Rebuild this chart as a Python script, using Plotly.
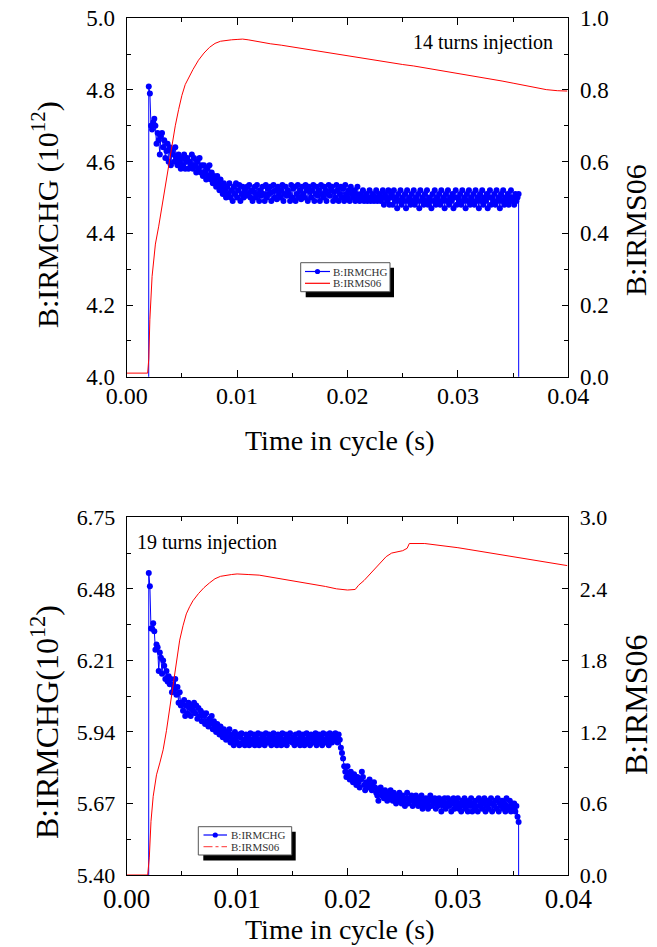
import numpy as np
import plotly.graph_objects as go

# ---------------- data ----------------
# top panel: 14 turns injection, B:IRMCHG sampled every 0.1 ms from 2.0 ms
top_t0, top_dt = 0.0020, 0.0001
top_irmchg = [
    4.81, 4.79, 4.70, 4.69, 4.71, 4.72, 4.70, 4.65, 4.68, 4.66,
    4.62, 4.67, 4.68, 4.64, 4.66, 4.61, 4.63, 4.65, 4.60, 4.64,
    4.59, 4.63, 4.62, 4.60, 4.64, 4.61, 4.59, 4.62, 4.60, 4.58,
    4.61, 4.59, 4.62, 4.58, 4.60, 4.61, 4.58, 4.60, 4.59, 4.62,
    4.58, 4.61, 4.59, 4.57, 4.60, 4.58, 4.61, 4.57, 4.59, 4.56,
    4.59, 4.57, 4.55, 4.58, 4.56, 4.59, 4.55, 4.57, 4.54, 4.56,
    4.55, 4.53, 4.56, 4.54, 4.52, 4.55, 4.53, 4.51, 4.54, 4.52,
    4.50, 4.53, 4.51, 4.54, 4.50, 4.52, 4.49, 4.53, 4.51, 4.54,
    4.50, 4.52, 4.535, 4.49, 4.51, 4.53, 4.50, 4.52, 4.505, 4.53,
    4.51, 4.535, 4.50, 4.52, 4.49, 4.515, 4.53, 4.50, 4.535, 4.51,
    4.49, 4.52, 4.505, 4.53, 4.51, 4.49, 4.535, 4.50, 4.525, 4.51,
    4.53, 4.49, 4.515, 4.535, 4.50, 4.52, 4.495, 4.53, 4.51, 4.50,
    4.52, 4.535, 4.49, 4.51, 4.53, 4.505, 4.52, 4.51, 4.49, 4.535,
    4.50, 4.525, 4.53, 4.49, 4.51, 4.535, 4.50, 4.52, 4.495, 4.53,
    4.51, 4.50, 4.535, 4.52, 4.49, 4.53, 4.515, 4.50, 4.52, 4.535,
    4.49, 4.51, 4.53, 4.505, 4.52, 4.49, 4.535, 4.51, 4.50, 4.53,
    4.52, 4.49, 4.51, 4.535, 4.505, 4.52, 4.53, 4.49, 4.515, 4.50,
    4.535, 4.52, 4.49, 4.51, 4.53, 4.50, 4.525, 4.49, 4.535, 4.51,
    4.50, 4.52, 4.49, 4.53, 4.51, 4.50, 4.52, 4.49, 4.51, 4.53,
    4.50, 4.49, 4.51, 4.50, 4.52, 4.49, 4.50, 4.51, 4.49, 4.50,
    4.52, 4.49, 4.50, 4.51, 4.49, 4.50, 4.52, 4.49, 4.50, 4.51,
    4.49, 4.50, 4.52, 4.48, 4.51, 4.50, 4.49, 4.52, 4.48, 4.50,
    4.51, 4.48, 4.52, 4.49, 4.50, 4.47, 4.51, 4.49, 4.52, 4.48,
    4.50, 4.49, 4.51, 4.47, 4.52, 4.49, 4.50, 4.48, 4.51, 4.49,
    4.52, 4.48, 4.50, 4.49, 4.51, 4.47, 4.52, 4.49, 4.50, 4.48,
    4.51, 4.49, 4.52, 4.48, 4.50, 4.49, 4.47, 4.51, 4.49, 4.52,
    4.48, 4.50, 4.49, 4.51, 4.48, 4.52, 4.49, 4.50, 4.47, 4.51,
    4.49, 4.52, 4.48, 4.50, 4.49, 4.51, 4.47, 4.50, 4.52, 4.48,
    4.50, 4.49, 4.51, 4.48, 4.52, 4.49, 4.50, 4.47, 4.51, 4.49,
    4.52, 4.48, 4.50, 4.49, 4.51, 4.48, 4.52, 4.49, 4.50, 4.47,
    4.51, 4.49, 4.52, 4.48, 4.50, 4.49, 4.51, 4.47, 4.50, 4.52,
    4.48, 4.50, 4.49, 4.51, 4.48, 4.52, 4.49, 4.50, 4.47, 4.51,
    4.49, 4.52, 4.48, 4.50, 4.49, 4.51, 4.48, 4.50, 4.52, 4.49,
    4.50, 4.48, 4.51, 4.49, 4.50, 4.51,
]
top_edges_t = [0.00196, 0.03556]      # beam on / beam off instants
top_edges_v = [0.0, 0.0]

top_rms_t = [0.0, 0.0019, 0.0020, 0.0021, 0.0023, 0.0026, 0.0029, 0.0032, 0.0035,
             0.0038, 0.0041, 0.0044, 0.0047, 0.0050, 0.0053, 0.0056, 0.0060, 0.0065,
             0.0070, 0.0075, 0.0080, 0.0085, 0.0090, 0.0095, 0.0100, 0.0105, 0.0110,
             0.0115, 0.0120, 0.0130, 0.0140, 0.0150, 0.0160, 0.0170, 0.0180, 0.0190,
             0.0200, 0.0210, 0.0220, 0.0230, 0.0240, 0.0250, 0.0260, 0.0270, 0.0280,
             0.0290, 0.0300, 0.0310, 0.0320, 0.0330, 0.0340, 0.0350, 0.0360, 0.0370,
             0.0380, 0.0390, 0.0399]
top_rms_v = [0.01, 0.01, 0.05, 0.16, 0.28, 0.37, 0.42, 0.475, 0.53,
             0.59, 0.65, 0.70, 0.745, 0.785, 0.815, 0.835, 0.857, 0.883,
             0.903, 0.919, 0.930, 0.936, 0.939, 0.940, 0.941, 0.942, 0.940,
             0.937, 0.934, 0.929, 0.925, 0.920, 0.916, 0.910, 0.904, 0.899,
             0.895, 0.890, 0.885, 0.879, 0.874, 0.871, 0.867, 0.862, 0.856,
             0.851, 0.846, 0.840, 0.835, 0.830, 0.825, 0.819, 0.813, 0.806,
             0.801, 0.798, 0.797]

# bottom panel: 19 turns injection
bot_t0, bot_dt = 0.0020, 0.0001
bot_irmchg = [
    6.54, 6.49, 6.33, 6.33, 6.35, 6.32, 6.25, 6.27, 6.26, 6.17,
    6.24, 6.22, 6.16, 6.21, 6.19, 6.14, 6.17, 6.13, 6.15, 6.12,
    6.14, 6.09, 6.12, 6.10, 6.14, 6.08, 6.11, 6.05, 6.09, 6.04,
    6.05, 6.02, 6.06, 6.00, 6.04, 6.01, 6.05, 6.03, 6.00, 6.04,
    6.02, 6.05, 6.01, 6.04, 5.99, 6.03, 6.00, 6.02, 5.98, 6.01,
    6.00, 5.97, 6.01, 5.98, 5.96, 5.99, 5.97, 6.00, 5.95, 5.98,
    5.96, 5.94, 5.97, 5.95, 5.93, 5.96, 5.94, 5.92, 5.95, 5.93,
    5.91, 5.94, 5.92, 5.95, 5.90, 5.93, 5.91, 5.89, 5.94, 5.92,
    5.90, 5.93, 5.89, 5.92, 5.935, 5.90, 5.91, 5.89, 5.93, 5.90,
    5.92, 5.89, 5.935, 5.91, 5.90, 5.93, 5.89, 5.92, 5.905, 5.935,
    5.89, 5.91, 5.93, 5.90, 5.92, 5.89, 5.935, 5.91, 5.90, 5.93,
    5.91, 5.89, 5.92, 5.935, 5.90, 5.915, 5.89, 5.93, 5.90, 5.92,
    5.89, 5.935, 5.91, 5.90, 5.93, 5.89, 5.92, 5.905, 5.935, 5.91,
    5.90, 5.92, 5.89, 5.93, 5.91, 5.90, 5.935, 5.89, 5.92, 5.90,
    5.93, 5.89, 5.91, 5.935, 5.90, 5.92, 5.89, 5.93, 5.915, 5.90,
    5.92, 5.935, 5.89, 5.91, 5.93, 5.90, 5.92, 5.89, 5.935, 5.91,
    5.90, 5.93, 5.91, 5.89, 5.935, 5.92, 5.90, 5.93, 5.91, 5.935,
    5.92, 5.90, 5.93, 5.91, 5.88, 5.86, 5.84, 5.81, 5.79, 5.77,
    5.81, 5.78, 5.76, 5.79, 5.77, 5.75, 5.78, 5.76, 5.74, 5.77,
    5.75, 5.73, 5.76, 5.79, 5.77, 5.74, 5.72, 5.75, 5.73, 5.74,
    5.76, 5.74, 5.72, 5.73, 5.75, 5.73, 5.71, 5.70, 5.68, 5.72,
    5.73, 5.70, 5.71, 5.69, 5.72, 5.70, 5.68, 5.71, 5.69, 5.72,
    5.70, 5.68, 5.71, 5.69, 5.67, 5.70, 5.68, 5.71, 5.69, 5.67,
    5.70, 5.68, 5.66, 5.69, 5.71, 5.67, 5.69, 5.68, 5.70, 5.66,
    5.69, 5.67, 5.70, 5.68, 5.66, 5.69, 5.67, 5.70, 5.65, 5.68,
    5.66, 5.69, 5.67, 5.65, 5.68, 5.70, 5.66, 5.68, 5.67, 5.69,
    5.65, 5.68, 5.66, 5.69, 5.67, 5.64, 5.68, 5.66, 5.69, 5.65,
    5.67, 5.69, 5.66, 5.68, 5.64, 5.67, 5.69, 5.65, 5.68, 5.66,
    5.69, 5.65, 5.67, 5.64, 5.68, 5.66, 5.69, 5.65, 5.67, 5.64,
    5.68, 5.66, 5.69, 5.64, 5.67, 5.65, 5.68, 5.66, 5.64, 5.69,
    5.66, 5.68, 5.65, 5.67, 5.69, 5.64, 5.66, 5.68, 5.65, 5.67,
    5.69, 5.64, 5.67, 5.66, 5.68, 5.65, 5.69, 5.64, 5.67, 5.66,
    5.68, 5.65, 5.67, 5.64, 5.69, 5.66, 5.65, 5.68, 5.64, 5.67,
    5.65, 5.67, 5.64, 5.66, 5.62, 5.60,
]
bot_edges_t = [0.00196, 0.03552]
bot_edges_v = [0.0, 0.0]

bot_rms_t = [0.0, 0.0019, 0.00205, 0.0022, 0.0024, 0.0027, 0.0030, 0.0033, 0.0036,
             0.0039, 0.0042, 0.0045, 0.0048, 0.0051, 0.0054, 0.0057, 0.0060, 0.0065,
             0.0070, 0.0075, 0.0080, 0.0085, 0.0090, 0.0095, 0.0100, 0.0105, 0.0110,
             0.0120, 0.0130, 0.0140, 0.0150, 0.0160, 0.0170, 0.0180, 0.0190, 0.0195,
             0.0200, 0.0207, 0.0210, 0.0215, 0.0220, 0.0225, 0.0230, 0.0235, 0.0240,
             0.0245, 0.0250, 0.0254, 0.0256, 0.0270, 0.0275, 0.0280, 0.0290, 0.0300,
             0.0310, 0.0320, 0.0330, 0.0340, 0.0350, 0.0360, 0.0370, 0.0380, 0.0390,
             0.0399]
bot_rms_v = [0.0, 0.0, 0.15, 0.45, 0.66, 0.84, 0.94, 1.05, 1.21,
             1.40, 1.59, 1.80, 1.97, 2.09, 2.19, 2.25, 2.30, 2.36,
             2.41, 2.45, 2.485, 2.505, 2.515, 2.52, 2.525, 2.525, 2.52,
             2.515, 2.50, 2.485, 2.47, 2.455, 2.44, 2.42, 2.40, 2.395,
             2.39, 2.395, 2.43, 2.47, 2.52, 2.57, 2.62, 2.67, 2.70,
             2.71, 2.72, 2.74, 2.78, 2.78, 2.775, 2.77, 2.76, 2.745,
             2.73, 2.715, 2.70, 2.685, 2.665, 2.65, 2.635, 2.62, 2.605,
             2.595]

top_labels = ["B:IRMCHG", "B:IRMS06"]
bot_labels = ["B:IRMCHG", "B:IRMS06"]

# ---------------- build ----------------
def series(t0, dt, vals, edges_t, edges_v):
    t = list(t0 + dt * np.arange(len(vals)))
    return ([edges_t[0]] + t + [edges_t[1]], [edges_v[0]] + list(vals) + [edges_v[1]])

W, H = 657, 947
FONT = "Liberation Serif"
BLUE, RED = "#0000FF", "#FF0000"

def px_x(p):
    return p / W

def px_y(p):
    return 1 - p / H

fig = go.Figure()

tx, ty = series(top_t0, top_dt, top_irmchg, top_edges_t, top_edges_v)
fig.add_trace(go.Scatter(x=tx, y=ty, mode="lines+markers", name=top_labels[0],
                         line=dict(color=BLUE, width=1), marker=dict(color=BLUE, size=6),
                         xaxis="x", yaxis="y", showlegend=False))
fig.add_trace(go.Scatter(x=top_rms_t, y=top_rms_v, mode="lines", name=top_labels[1],
                         line=dict(color=RED, width=1), xaxis="x", yaxis="y2", showlegend=False))

bx, by = series(bot_t0, bot_dt, bot_irmchg, bot_edges_t, bot_edges_v)
fig.add_trace(go.Scatter(x=bx, y=by, mode="lines+markers", name=bot_labels[0],
                         line=dict(color=BLUE, width=1), marker=dict(color=BLUE, size=6),
                         xaxis="x2", yaxis="y3", showlegend=False))
fig.add_trace(go.Scatter(x=bot_rms_t, y=bot_rms_v, mode="lines", name=bot_labels[1],
                         line=dict(color=RED, width=1), xaxis="x2", yaxis="y4", showlegend=False))

xdom = [px_x(126.7), px_x(568.3)]
top_dom = [px_y(376.7), px_y(18.3)]
bot_dom = [px_y(875.0), px_y(517.3)]

def xax(anchor, fs, standoff):
    return dict(domain=xdom, anchor=anchor, range=[0, 0.04], dtick=0.01, tick0=0,
                tickformat=".2f", showline=True, linecolor="black", linewidth=1.3,
                mirror="ticks", ticks="inside", ticklen=7, tickwidth=1, tickcolor="black",
                minor=dict(ticks="inside", ticklen=4, dtick=0.005, tickcolor="black", tickwidth=1),
                showgrid=False, zeroline=False, automargin=False, ticklabelstandoff=standoff,
                tickfont=dict(family=FONT, size=fs, color="black"))

def yax(dom, anchor, rng, dtick, mdt, fmt, fs, side="left", overlay=None):
    d = dict(domain=dom, anchor=anchor, range=rng, dtick=dtick, tick0=rng[0], tickformat=fmt,
             showline=True, linecolor="black", linewidth=1.3, side=side,
             ticks="inside", ticklen=6, tickwidth=1, tickcolor="black",
             minor=dict(ticks="inside", ticklen=4, dtick=mdt, tickcolor="black", tickwidth=1),
             showgrid=False, zeroline=False, automargin=False, ticklabelstandoff=6,
             tickfont=dict(family=FONT, size=fs, color="black"))
    if overlay:
        d["overlaying"] = overlay
    return d

fig.update_layout(
    width=W, height=H, margin=dict(l=0, r=0, t=0, b=0, autoexpand=False),
    paper_bgcolor="white", plot_bgcolor="white", showlegend=False,
    xaxis=xax("y", 24, -3),
    yaxis=yax(top_dom, "x", [4.0, 5.0], 0.2, 0.1, ".1f", 23),
    yaxis2=yax(top_dom, "x", [0.0, 1.0], 0.2, 0.1, ".1f", 23, side="right", overlay="y"),
    xaxis2=xax("y3", 27, -1),
    yaxis3=yax(bot_dom, "x2", [5.40, 6.75], 0.27, 0.135, ".2f", 22),
    yaxis4=yax(bot_dom, "x2", [0.0, 3.0], 0.6, 0.3, ".1f", 22, side="right", overlay="y3"),
)

# ---- legends (box with drop shadow, sample line/marker, labels) ----
def legend_box(x0, y0, x1, y1, row1, row2, sym0, sym1, txt_x, dash2, color2, labels):
    fig.add_shape(type="rect", xref="paper", yref="paper",
                  x0=px_x(x0 + 5), x1=px_x(x1 + 4), y0=px_y(y1 + 5.5), y1=px_y(y0 + 5),
                  fillcolor="black", line=dict(width=0), layer="above")
    fig.add_shape(type="rect", xref="paper", yref="paper",
                  x0=px_x(x0), x1=px_x(x1), y0=px_y(y1), y1=px_y(y0),
                  fillcolor="white", line=dict(color="#555555", width=1), layer="above")
    fig.add_shape(type="line", xref="paper", yref="paper",
                  x0=px_x(sym0), x1=px_x(sym1), y0=px_y(row1), y1=px_y(row1),
                  line=dict(color=BLUE, width=1.2), layer="above")
    mx = (sym0 + sym1) / 2
    fig.add_shape(type="circle", xref="paper", yref="paper",
                  x0=px_x(mx - 2.6), x1=px_x(mx + 2.6), y0=px_y(row1 + 2.6), y1=px_y(row1 - 2.6),
                  fillcolor=BLUE, line=dict(color=BLUE, width=0), layer="above")
    fig.add_shape(type="line", xref="paper", yref="paper",
                  x0=px_x(sym0), x1=px_x(sym1), y0=px_y(row2), y1=px_y(row2),
                  line=dict(color=color2, width=1.2, dash=dash2), layer="above")
    for lab, ry in zip(labels, (row1, row2)):
        fig.add_annotation(xref="paper", yref="paper", showarrow=False,
                           x=px_x(txt_x), y=px_y(ry), xanchor="left", yanchor="middle",
                           text=lab, font=dict(family=FONT, size=11, color="#333333"))

legend_box(300.7, 262.7, 390, 291.7, 271.5, 283.3, 305, 330, 331, "solid", RED, top_labels)
legend_box(198.3, 826.7, 291.7, 855, 835, 846.7, 203.5, 227, 228.5, "dashdot", "#FF5A5A", bot_labels)

texts = [
    ("14 turns injection", 483, 43, 20, 0),
    ("19 turns injection", 207, 542, 20, 0),
    ("Time in cycle (s)", 340, 440, 28, 0),
    ("Time in cycle (s)", 340, 929, 28, 0),
    ("B:IRMCHG (10<sup>12</sup>)", 45, 215, 30, -90),
    ("B:IRMCHG(10<sup>12</sup>)", 45, 722, 32, -90),
    ("B:IRMS06", 636, 230, 30, -90),
    ("B:IRMS06", 636, 705, 32, -90),
]
for txt, x, y, fs, ang in texts:
    fig.add_annotation(xref="paper", yref="paper", showarrow=False,
                       text=txt, x=px_x(x), y=px_y(y), xanchor="center", yanchor="middle",
                       textangle=ang, font=dict(family=FONT, size=fs, color="black"))

fig.write_html("out.html",
               config={"displayModeBar": False},
               post_script="document.body.style.margin='0';"
                           "document.body.style.overflow='hidden';")
